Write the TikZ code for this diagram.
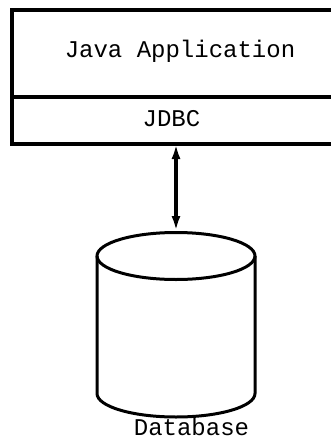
\documentclass[tikz,border=0pt]{standalone}
\usepackage{fontspec}
\setmonofont{Liberation Mono}
\usetikzlibrary{arrows.meta}
\begin{document}
\begin{tikzpicture}[
    x=1pt, y=1pt,
    layer/.style={draw=black, line width=4pt, rectangle, anchor=north west, inner sep=0pt},
    caption/.style={font=\ttfamily\fontsize{24}{24}\selectfont, anchor=base, inner sep=0pt},
    tip/.tip={Latex[length=15pt,width=9pt]},
    twoway/.style={draw=black, line width=3.2pt, tip-tip},
    drum/.style={draw=black, line width=3pt}
  ]
  \useasboundingbox[fill=white] (0,0) rectangle (331,-442);

  % application stack: application layer above the JDBC layer
  \node[layer, minimum width=340pt, minimum height=87pt] (app) at (10,-8) {};
  \node[layer, minimum width=340pt, minimum height=47pt] (jdbc) at (10,-95) {};
  \node[caption] (apptext) at (180,-57) {Java Application};
  \node[caption] (jdbctext) at (171.5,-126) {JDBC};

  % database cylinder
  \coordinate (dbc) at (176,-256);
  \coordinate (dbtop) at (176,-231);
  \coordinate (stacklow) at (176,-144);
  \draw[drum] (dbc) ellipse [x radius=79pt, y radius=23.5pt];
  \draw[drum] (97,-256) -- (97,-393.5)
      arc [start angle=180, end angle=360, x radius=79pt, y radius=23.5pt]
      -- (255,-256);
  \node[caption] (dbtext) at (191.5,-435) {Database};

  % two-way connection between JDBC and the database
  \draw[twoway] (stacklow) -- (dbtop);
\end{tikzpicture}
\end{document}
